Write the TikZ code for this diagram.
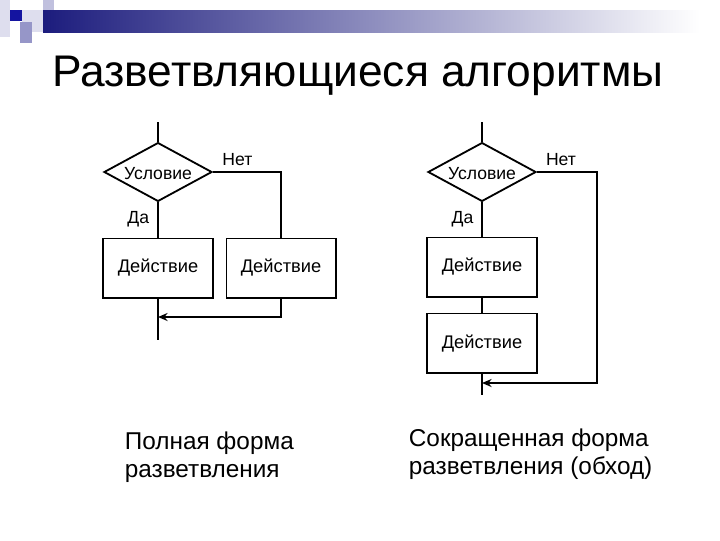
\documentclass[tikz,border=0pt]{standalone}
\usepackage{fontspec}
\setmainfont{Liberation Sans}
\usepackage{tikz}
\usetikzlibrary{shapes.geometric, positioning, arrows.meta}

\definecolor{barblue}{RGB}{28,28,125}
\definecolor{sqblue}{RGB}{20,20,160}
\definecolor{lavlight}{RGB}{222,222,238}
\definecolor{lavmid}{RGB}{150,150,200}

\begin{document}
\begin{tikzpicture}[
    x=0.025cm, y=-0.025cm,
    >={Stealth[length=2.4mm, width=2mm]}, on grid,
    line width=1.3pt,
    cond/.style={diamond, draw, minimum width=2.7cm, minimum height=1.47cm,
        aspect=2, inner sep=0pt, text height=10.5pt,
        font=\fontsize{12.5}{14}\selectfont},
    act/.style={rectangle, draw, minimum width=2.73cm, minimum height=1.48cm,
        font=\fontsize{13}{15}\selectfont},
    lbl/.style={font=\fontsize{12.5}{14}\selectfont, inner sep=1pt},
    caption/.style={align=left, anchor=north west, inner sep=0pt,
        font=\fontsize{17.3}{20}\selectfont}
]
    \useasboundingbox (0,0) rectangle (720,540);

    % Оформление слайда
    \fill[lavlight] (0,0) rectangle (10,37);
    \fill[lavlight] (22,10) rectangle (43,22);
    \fill[lavmid!60] (43,0) rectangle (54,20);
    \fill[lavmid] (20,22) rectangle (32,43);
    \fill[lavlight] (32,22) rectangle (43,32);
    \fill[sqblue] (10,10) rectangle (22,21);
    \shade[left color=barblue, right color=white, line width=0pt] (43,10) rectangle (700,32);

    \node[anchor=base, font=\fontsize{31.5}{36}\selectfont] (title) at (358,86) {Разветвляющиеся алгоритмы};

    % Полная форма
    \coordinate (t1) at (158,122);
    \node[cond] (cond1) at (158,172) {Условие};
    \node[act] (act1) [below=2.4cm of cond1] {Действие};
    \node[act] (act2) [right=3.075cm of act1] {Действие};
    \coordinate (j1) at (158,317);
    \coordinate (e1) at (158,340);

    \draw (t1) -- (cond1.north);
    \draw (cond1.south) -- node[lbl, pos=0.48, left=4.7pt] {Да} (act1.north);
    \draw (cond1.east) -| node[lbl, pos=0.18, above=3.2pt] {Нет} (act2.north);
    \draw (act1.south) -- (e1);
    \draw[->] (act2.south) |- (j1);

    % Сокращенная форма (обход)
    \coordinate (t2) at (482,122);
    \node[cond] (cond2) at (482,172) {Условие};
    \node[act] (act3) [below=2.375cm of cond2] {Действие};
    \node[act] (act4) [below=1.9cm of act3] {Действие};
    \coordinate (c2) at (597,383);
    \coordinate (j2) at (482,383);
    \coordinate (e2) at (482,395);

    \draw (t2) -- (cond2.north);
    \draw (cond2.south) -- node[lbl, pos=0.48, left=4.5pt] {Да} (act3.north);
    \draw (act3.south) -- (act4.north);
    \draw (act4.south) -- (e2);
    \draw[->] (cond2.east) -| node[lbl, pos=0.2, above=3.2pt] {Нет} (c2) -- (j2);

    % Подписи
    \node[caption] (cap1) at (124,431) {Полная форма\\разветвления};
    \node[caption] (cap2) at (408,428) {Сокращенная форма\\разветвления (обход)};
\end{tikzpicture}
\end{document}
